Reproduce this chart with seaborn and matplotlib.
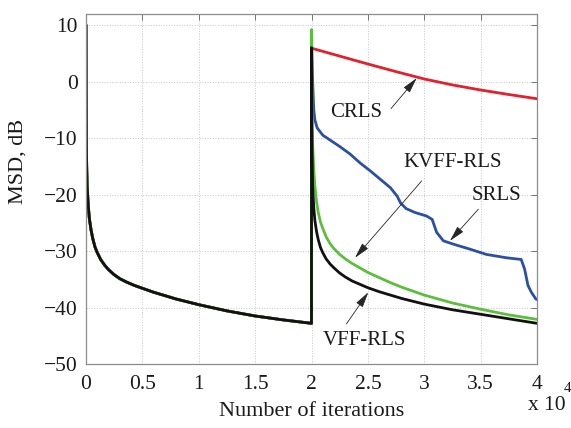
import numpy as np
import pandas as pd
import matplotlib
matplotlib.use('Agg')
import matplotlib.pyplot as plt
import seaborn as sns

# x in units of 1e4 iterations, MSD in dB
# first run (all algorithms overlap)
x_run1 = [0.0, 0.001, 0.003, 0.006, 0.01, 0.02, 0.03, 0.045, 0.06, 0.08, 0.1, 0.13,
          0.165, 0.2, 0.25, 0.3, 0.36, 0.43, 0.5, 0.6, 0.7, 0.8, 0.9, 1.0, 1.25, 1.5,
          1.75, 2.0]
y_run1 = [10.0, 0.0, -10.0, -15.0, -18.5, -22.0, -24.3, -26.3, -27.8, -29.3, -30.3, -31.5,
          -32.5, -33.3, -34.2, -34.9, -35.5, -36.1, -36.6, -37.3, -37.9, -38.5, -39.0,
          -39.5, -40.6, -41.5, -42.2, -42.8]

# second run, after the abrupt change at 2e4
x_vff = [2.0, 2.002, 2.005, 2.01, 2.02, 2.03, 2.045, 2.06, 2.08, 2.1, 2.13, 2.165, 2.2,
         2.25, 2.3, 2.36, 2.43, 2.5, 2.6, 2.7, 2.8, 2.9, 3.0, 3.25, 3.5, 3.75, 4.0]
y_vff = [6.0, -5.0, -12.0, -18.5, -22.3, -24.6, -26.6, -28.0, -29.4, -30.3, -31.4, -32.3,
         -33.0, -33.9, -34.6, -35.3, -35.9, -36.5, -37.2, -37.8, -38.4, -38.9, -39.4,
         -40.4, -41.2, -42.0, -42.8]

x_kvff = [2.0, 2.002, 2.005, 2.01, 2.02, 2.03, 2.045, 2.06, 2.08, 2.1, 2.13, 2.165, 2.2,
          2.25, 2.3, 2.36, 2.43, 2.5, 2.6, 2.7, 2.8, 2.9, 3.0, 3.25, 3.5, 3.75, 4.0]
y_kvff = [9.2, 0.0, -6.0, -11.0, -15.5, -18.5, -21.3, -23.2, -24.9, -26.0, -27.5, -28.7,
          -29.6, -30.6, -31.4, -32.2, -33.0, -33.8, -34.7, -35.6, -36.4, -37.1, -37.8,
          -39.2, -40.3, -41.3, -42.1]

x_srls = [2.0, 2.01, 2.02, 2.03, 2.05, 2.1, 2.16, 2.25, 2.34, 2.43, 2.52, 2.61, 2.7,
          2.76, 2.79, 2.84, 2.92, 3.02, 3.07, 3.11, 3.17, 3.26, 3.41, 3.55, 3.73, 3.86,
          3.89, 3.92, 3.95, 3.99, 4.0]
y_srls = [8.5, 0.0, -5.0, -6.8, -8.2, -9.5, -10.3, -11.5, -12.8, -14.4, -15.8, -17.3, -18.8,
          -20.3, -21.5, -22.5, -23.2, -23.8, -24.4, -26.7, -28.2, -28.8, -29.7, -30.6, -31.2,
          -31.5, -33.2, -36.1, -37.3, -38.5, -38.6]

x_crls = [2.0, 2.25, 2.5, 2.75, 3.0, 3.25, 3.5, 3.75, 4.0]
y_crls = [5.9, 4.5, 3.1, 1.75, 0.45, -0.6, -1.5, -2.3, -3.05]

sns.set_theme(style='white')
plt.rcParams['font.family'] = ['Liberation Serif', 'DejaVu Serif']
plt.rcParams['axes.unicode_minus'] = True

fig = plt.figure(figsize=(5.71, 4.28), dpi=100)
ax = fig.add_axes([86 / 571, 1 - 364 / 428, 451 / 571, 350 / 428])

series = [
    ('CRLS', x_crls, y_crls, '#e3202b'),
    ('SRLS', x_srls, y_srls, '#2c4fa6'),
    ('KVFF-RLS', x_kvff, y_kvff, '#5cbf3c'),
    ('VFF-RLS', x_vff, y_vff, '#111111'),
]
for name, xs, ys, col in series:
    df = pd.DataFrame({'x': x_run1 + xs, 'y': y_run1 + ys})
    sns.lineplot(data=df, x='x', y='y', ax=ax, estimator=None, sort=False,
                 color=col, lw=2.0)

ax.set_xlim(0, 4)
ax.set_ylim(-50, 11.95)
ax.set_xticks(np.arange(0, 4.01, 0.5))
ax.set_xticklabels(['0', '0.5', '1', '1.5', '2', '2.5', '3', '3.5', '4'])
ax.set_yticks(np.arange(-50, 11, 10))
ax.grid(True, ls=':', color='0.78', lw=0.7)
for s in ax.spines.values():
    s.set_color('0.55')
    s.set_linewidth(0.9)
ax.tick_params(direction='in', top=True, right=True, length=4, width=0.7,
               color='0.45', labelsize=15.5, labelcolor='0.1')
ax.tick_params(axis='x', pad=8)
ax.tick_params(axis='y', pad=6)

ax.set_xlabel('Number of iterations', fontsize=16, color='0.1', labelpad=6)
ax.set_ylabel('MSD, dB', fontsize=16, color='0.1')
ax.yaxis.set_label_coords(-0.13, 0.58)

fig.text(547 / 571, 1 - 406 / 428, 'x 10', fontsize=15.5, color='0.1',
         ha='center', va='center')
fig.text(568 / 571, 1 - 388 / 428, '4', fontsize=11, color='0.1',
         ha='center', va='center')

arrow = dict(arrowstyle='-|>,head_length=0.8,head_width=0.2', color='0.15',
             lw=0.6, shrinkA=0, shrinkB=0)
notes = [
    ('CRLS', (2.395, -5.4), (2.705, -4.8), (2.933, 0.6)),
    ('KVFF-RLS', (3.255, -14.3), (2.977, -17.6), (2.386, -31.2)),
    ('SRLS', (3.64, -20.1), (3.48, -22.6), (3.228, -28.2)),
    ('VFF-RLS', (2.47, -45.8), (2.31, -42.9), (2.504, -37.3)),
]
for label, pos, tail, tip in notes:
    ax.annotate('', xy=tip, xytext=tail, arrowprops=arrow)
    ax.text(pos[0], pos[1], label, fontsize=15, color='0.1', ha='center', va='center')

fig.savefig('out.png', dpi=100)
